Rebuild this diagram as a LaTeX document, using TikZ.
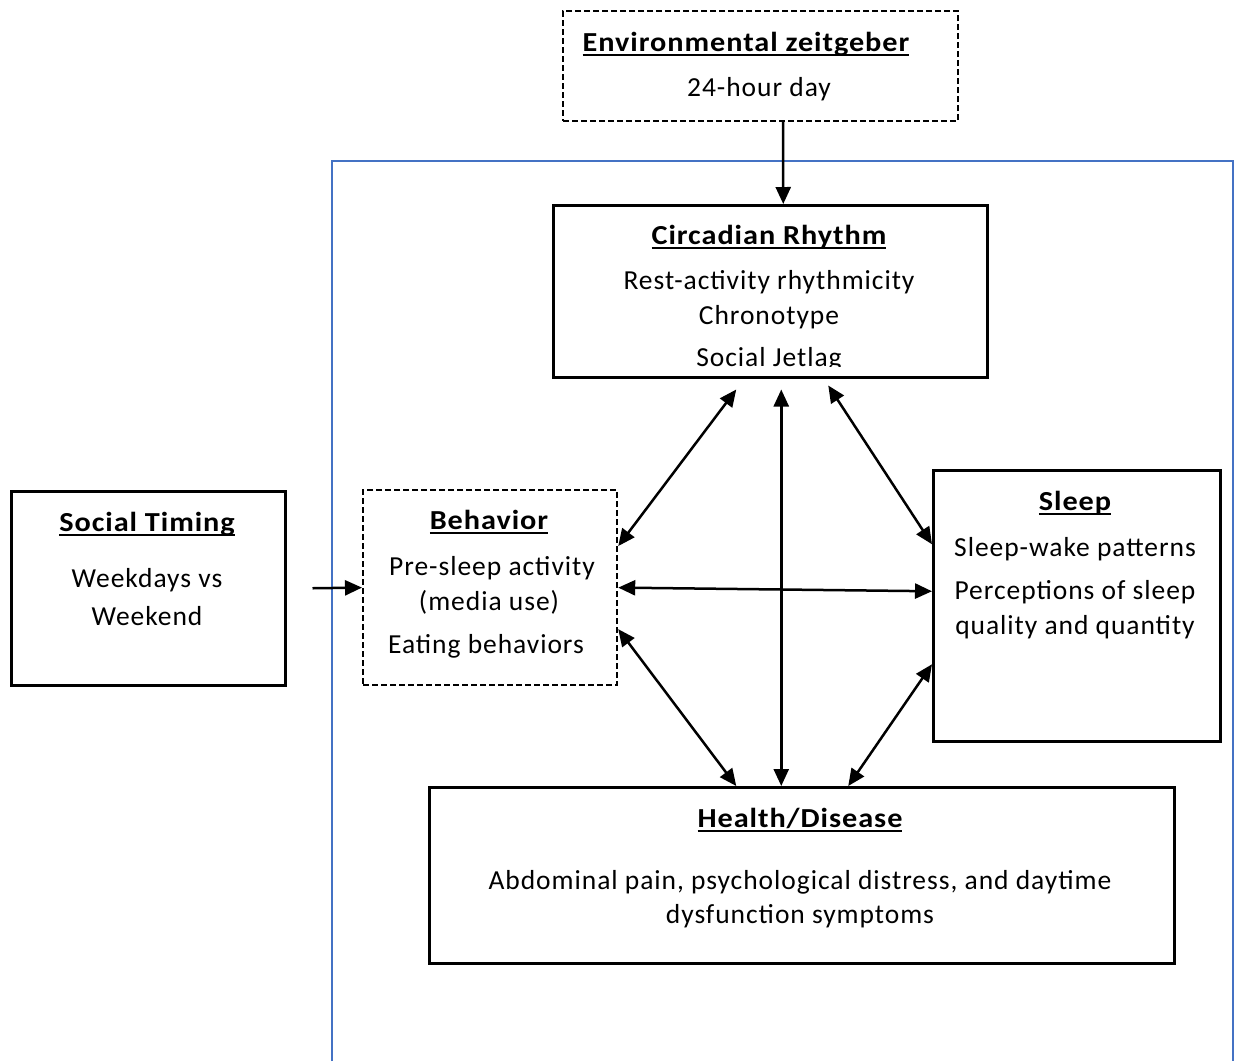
\documentclass[tikz,border=0pt]{standalone}
\usepackage{fontspec}
\setmainfont{Carlito}[LetterSpace=3.5,BoldFeatures={FakeStretch=1.1,LetterSpace=3.5}]
\usetikzlibrary{arrows.meta}
\newcommand\uln[1]{\setbox0\hbox{#1}\rlap{\rule[-5pt]{\wd0}{2pt}}\box0}
\definecolor{frameblue}{HTML}{4472C4}
\begin{document}
\begin{tikzpicture}[x=1pt,y=1pt,
  box/.style={draw,line width=2.5pt,inner sep=0pt,anchor=north west,fill=white},
  dbox/.style={box,line width=2.2pt,dash pattern=on 6pt off 3pt},
  txt/.style={anchor=base,inner sep=0pt,font=\fontsize{27.5}{32}\selectfont},
  ttl/.style={anchor=base,inner sep=0pt,font=\fontsize{27.5}{32}\selectfont\bfseries},
  tip/.tip={Triangle[length=17pt,width=15pt]},
  arr/.style={line width=2.5pt,-tip},
  darr/.style={line width=2.5pt,tip-tip}]
\useasboundingbox (0,0) rectangle (1236,-1061);
% outer blue frame
\draw[frameblue,line width=2.2pt] (332,-1061) -- (332,-161) -- (1233,-161) -- (1233,-1061);
% boxes
\node[dbox,minimum width=395,minimum height=110] (env) at (562,-10) {};
\node[box,minimum width=434,minimum height=172] (cir) at (552,-204) {};
\node[box,minimum width=274,minimum height=194] (soc) at (10,-490) {};
\node[dbox,minimum width=254,minimum height=195] (beh) at (362,-489) {};
\node[box,minimum width=287,minimum height=271] (slp) at (932,-469) {};
\node[box,minimum width=745,minimum height=176] (hea) at (428,-786) {};
% texts
\node[ttl] (envT) at (746,-51) {\uln{Environmental zeitgeber}};
\node[txt] (env1) at (759,-96) {24-hour day};
\node[ttl] (cirT) at (769,-244) {\uln{Circadian Rhythm}};
\node[txt] (cir1) at (769,-289) {Rest-activity rhythmicity};
\node[txt] (cir2) at (769,-324) {Chronotype};
\begin{scope}
\clip (552,-204) rectangle (986,-366);
\node[txt] (cir3) at (769,-366) {Social Jetlag};
\end{scope}
\node[ttl] (socT) at (147,-531) {\uln{Social Timing}};
\node[txt] (soc1) at (147,-587) {Weekdays vs};
\node[txt] (soc2) at (147,-625) {Weekend};
\node[ttl] (behT) at (489,-529) {\uln{Behavior}};
\node[txt] (beh1) at (492,-575) {Pre-sleep activity};
\node[txt] (beh2) at (489,-610) {(media use)};
\node[txt] (beh3) at (486,-653) {Eating behaviors};
\node[ttl] (slpT) at (1075,-510) {\uln{Sleep}};
\node[txt] (slp1) at (1075,-556) {Sleep-wake patterns};
\node[txt] (slp2) at (1075,-599) {Perceptions of sleep};
\node[txt] (slp3) at (1075,-634) {quality and quantity};
\node[ttl] (heaT) at (800,-827) {\uln{Health/Disease}};
\node[txt] (hea1) at (800,-889) {Abdominal pain, psychological distress, and daytime};
\node[txt] (hea2) at (800,-923) {dysfunction symptoms};
% connectors
\draw[arr] ([xshift=22.5pt]env.south) -- ([xshift=13pt]cir.north);
\draw[arr] ([xshift=26pt]soc.east) -- (beh.west);
\draw[darr] ([yshift=41.5pt]beh.east) -- ([xshift=-34pt,yshift=-11pt]cir.south);
\draw[darr] ([xshift=11pt,yshift=-11pt]cir.south) -- ([xshift=-20.5pt]hea.north);
\draw[darr] ([xshift=58pt,yshift=-7pt]cir.south) -- ([yshift=61.5pt]slp.west);
\draw[darr] (beh.east) -- ([yshift=14.5pt]slp.west);
\draw[darr] ([yshift=-41.5pt]beh.east) -- ([xshift=-65.5pt]hea.north);
\draw[darr] ([yshift=-58.5pt]slp.west) -- ([xshift=46.5pt]hea.north);
\end{tikzpicture}
\end{document}
